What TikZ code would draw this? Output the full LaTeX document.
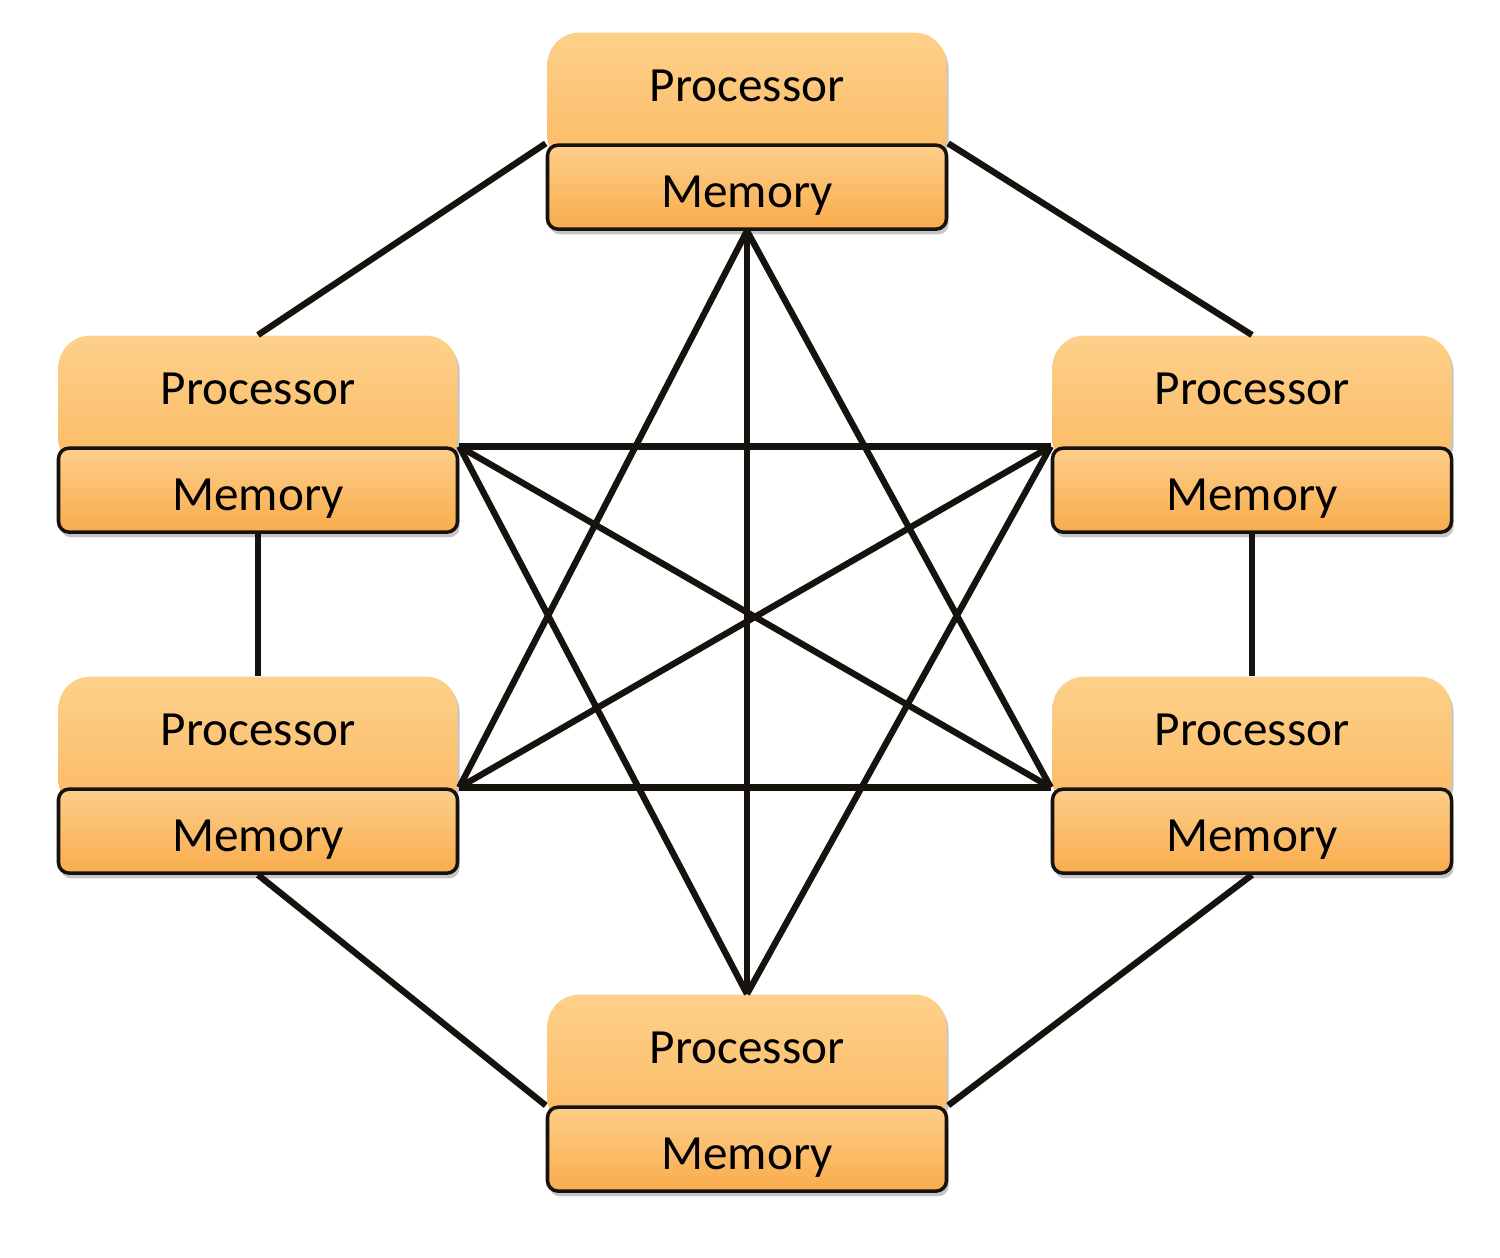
\documentclass[tikz,border=0pt]{standalone}
\usepackage{fontspec}
\setmainfont{Carlito}
\usepackage{tikz}
\usetikzlibrary{positioning,shadows}
\definecolor{procTop}{RGB}{253,208,138}
\definecolor{procBot}{RGB}{251,186,100}
\definecolor{memTop}{RGB}{253,206,138}
\definecolor{memBot}{RGB}{249,172,76}
\definecolor{linkInk}{RGB}{22,18,14}

\tikzset{
  proc/.style={anchor=north, minimum width=3.99cm, minimum height=1.35cm,
    text height=0.4cm, text depth=0.37cm, rounded corners=9pt,
    top color=procTop, bottom color=procBot,
    drop shadow={shadow xshift=0.6pt, shadow yshift=-1.2pt, fill=black!45, opacity=0.5},
    font=\fontsize{14pt}{16pt}\selectfont},
  mem/.style={minimum width=3.99cm, minimum height=0.84cm, rounded corners=3pt,
    text height=0.5cm, text depth=0.1cm,
    draw=linkInk, line width=1pt, top color=memTop, bottom color=memBot,
    drop shadow={shadow xshift=0.6pt, shadow yshift=-1.5pt, fill=black!45, opacity=0.5},
    font=\fontsize{14pt}{16pt}\selectfont},
  link/.style={draw=linkInk, line width=1.8pt}
}

\begin{document}
\begin{tikzpicture}
                \useasboundingbox (0,0) rectangle (15,12.58);
                % Blocks
                \node[proc] (procT) at (7.47,12.26) {Processor};
                \node[mem, below=-0.25cm of procT] (memT) {Memory};
                \node[proc] (procLU) at (2.58,9.23) {Processor};
                \node[mem, below=-0.25cm of procLU] (memLU) {Memory};
                \node[proc] (procRU) at (12.52,9.23) {Processor};
                \node[mem, below=-0.25cm of procRU] (memRU) {Memory};
                \node[proc] (procLL) at (2.58,5.82) {Processor};
                \node[mem, below=-0.25cm of procLL] (memLL) {Memory};
                \node[proc] (procRL) at (12.52,5.82) {Processor};
                \node[mem, below=-0.25cm of procRL] (memRL) {Memory};
                \node[proc] (procB) at (7.47,2.64) {Processor};
                \node[mem, below=-0.25cm of procB] (memB) {Memory};
                % Ring
                \draw[link] (memT.north west) -- (procLU.north);
                \draw[link] (memT.north east) -- (procRU.north);
                \draw[link] (memLU.south) -- (procLL.north);
                \draw[link] (memRU.south) -- (procRL.north);
                \draw[link] (memLL.south) -- (memB.north west);
                \draw[link] (memRL.south) -- (memB.north east);
                % Star
                \draw[link] (memT.south) -- (procB.north);
                \draw[link] (memT.south) -- (memLL.north east);
                \draw[link] (memT.south) -- (memRL.north west);
                \draw[link] (procB.north) -- (memLU.north east);
                \draw[link] (procB.north) -- (memRU.north west);
                \draw[link] (memLU.north east) -- (memRU.north west);
                \draw[link] (memLU.north east) -- (memRL.north west);
                \draw[link] (memLL.north east) -- (memRL.north west);
                \draw[link] (memLL.north east) -- (memRU.north west);
            \end{tikzpicture}
\end{document}
